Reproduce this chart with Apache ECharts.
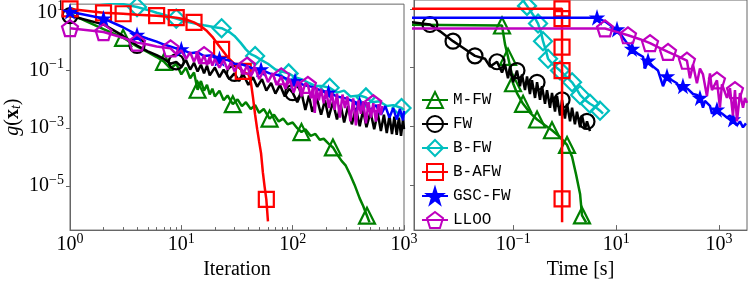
<!DOCTYPE html>
<html><head><meta charset="utf-8">
<script src="https://cdn.jsdelivr.net/npm/echarts@6/dist/echarts.min.js"></script>
<style>html,body{margin:0;padding:0;background:#fff}#c{width:748px;height:285px}</style>
</head><body><div id="c"></div>
<script>
const names = ['M-FW', 'FW', 'B-FW', 'B-AFW', 'GSC-FW', 'LLOO'];
const colors = ['#008000', '#000000', '#00BFBF', '#FF0000', '#0000FF', '#BF00BF'];
const xTicksIter = [1, 10, 100, 1000];
const xTicksTime = [0.1, 10, 1000];
const yTicks = [1e-5, 1e-3, 1e-1, 10];

// ---------- left panel: gap vs iteration ----------
const mfwIter = [[1,9.26],[2,2.71],[3,1.36],[4,0.681],[5,0.43],[6,0.293],[7,0.2],[8,0.117],[9,0.171],[10,0.0736],[11,0.126],[12,0.0541],[13,0.0858],[14,0.0215],[15,0.043],[16,0.02],[17,0.0316],[18,0.0147],[19,0.0233],[20,0.0126],[22,0.02],[24,0.00926],[26,0.0136],[29,0.00681],[32,0.01],[35,0.00585],[38,0.00794],[42,0.00464],[46,0.00631],[50,0.00341],[55,0.00464],[62,0.00215],[68,0.00293],[75,0.00171],[82,0.00215],[90,0.00136],[100,0.00158],[110,0.001],[120,7.36e-4],[130,9.26e-4],[145,5.41e-4],[160,6.31e-4],[175,3.98e-4],[190,4.3e-4],[210,2.93e-4],[230,2.15e-4],[250,1.26e-4],[275,7.36e-5],[300,5.01e-5],[330,2.33e-5],[360,1.08e-5],[400,3.69e-6],[430,2.0e-6],[465,9.26e-7],[490,5.41e-7]];
const mfwIterMarks = [2,6,13,23,31,38,45,53];

const fwIter = [[1,7.94],[2,3.98],[3,1.58],[4,0.736],[5,0.464],[6,0.341],[7,0.251],[8,0.171],[9,0.2],[10,0.136],[11,0.233],[12,0.108],[13,0.185],[14,0.0926],[15,0.158],[16,0.0794],[17,0.147],[18,0.0681],[20,0.126],[22,0.0585],[24,0.108],[27,0.0501],[30,0.0794],[33,0.043],[36,0.0736],[40,0.0316],[44,0.0585],[48,0.0271],[53,0.0501],[58,0.02],[64,0.0369],[70,0.0158],[77,0.0316],[85,0.0126],[93,0.0233],[100,0.0171],[110,0.00794],[120,0.0171],[130,0.0043],[140,0.0136],[150,0.00369],[165,0.0108],[180,0.00293],[195,0.00926],[210,0.00233],[230,0.00794],[250,0.002],[270,0.00631],[290,0.00158],[315,0.00585],[340,0.00136],[370,0.00501],[400,0.00117],[430,0.0043],[460,0.00108],[500,0.00369],[540,9.26e-4],[580,0.00341],[620,7.94e-4],[660,0.00293],[700,6.81e-4],[740,0.00271],[780,6.31e-4],[820,0.00251],[860,5.85e-4],[900,0.00233],[940,5.41e-4],[980,0.002],[1000,9.26e-4]];
const fwIterMarks = [0,3,8,22,35];

const bfwIter = [[1,31.6],[2,23.3],[3,20],[4,15.8],[5,12.6],[6,10],[7,8.58],[9,6.31],[11,5.01],[13,4.3],[16,3.69],[20,3.16],[23,2.93],[27,2.15],[30,1.58],[34,0.926],[38,0.541],[42,0.369],[46,0.316],[52,0.233],[60,0.171],[70,0.108],[80,0.0926],[92,0.0794],[105,0.0585],[120,0.0501],[140,0.0369],[160,0.0293],[180,0.0293],[215,0.0251],[250,0.0171],[290,0.02],[330,0.0126],[400,0.0136],[455,0.0117],[520,0.00794],[600,0.00858],[700,0.00585],[800,0.00631],[950,0.00501],[1000,0.0043]];
const bfwIterMarks = [3,7,12,18,23,29,34,39];

const bafwIter = [[1,13.6],[2,10],[3,9.26],[4,8.58],[6,7.94],[9,6.81],[11,5.85],[13,4.64],[15,3.41],[17,2.33],[19,1.47],[21,0.858],[23,0.541],[26,0.293],[30,0.171],[33,0.126],[36,0.0926],[40,0.0736],[42,0.043],[44,0.0117],[46,0.00293],[48,9.26e-4],[50,3.41e-4],[52,1.36e-4],[54,2.93e-5],[56,9.26e-6],[58,3.41e-6],[60,5.85e-7]];
const bafwIterMarks = [0,1,2,4,5,7,12,16,26];

const gscIter = [[1,10.8],[2,6.31],[3,3.16],[4,1.71],[5,1.26],[6,1.0],[7,0.794],[9,0.585],[10,0.541],[12,0.398],[14,0.43],[16,0.316],[19,0.341],[22,0.251],[26,0.233],[30,0.171],[36,0.158],[44,0.117],[52,0.108],[62,0.0794],[75,0.0681],[90,0.0501],[105,0.043],[125,0.0316],[150,0.0271],[180,0.02],[210,0.0171],[250,0.0126],[300,0.0108],[350,0.00858],[400,0.00681],[450,0.00736],[500,0.0043],[560,0.00631],[620,0.00293],[680,0.00585],[740,0.00233],[800,0.00501],[860,0.002],[920,0.00464],[980,0.00185],[1000,0.00398]];
const gscIterMarks = [0,1,3,8,13,18,22,26,30];

const llooIter = [[1,2.93],[2,2.15],[3,1.36],[4,0.926],[5,0.794],[6,0.681],[7,0.631],[8,0.585],[9,0.369],[10,0.501],[11,0.251],[12,0.43],[13,0.2],[14,0.398],[15,0.185],[16,0.341],[17,0.158],[18,0.293],[19,0.147],[20,0.251],[22,0.126],[24,0.233],[26,0.108],[28,0.2],[30,0.0926],[33,0.171],[36,0.0794],[39,0.147],[42,0.0631],[46,0.126],[50,0.0501],[55,0.1],[60,0.0398],[66,0.0794],[72,0.0316],[79,0.0631],[86,0.0233],[94,0.0501],[102,0.0171],[111,0.043],[120,0.0126],[130,0.0369],[137,0.0316],[146,0.0108],[152,0.0271],[158,0.00341],[164,0.0251],[172,0.00926],[180,0.0233],[190,0.00736],[200,0.02],[212,0.00501],[225,0.0171],[238,0.0043],[250,0.0158],[265,0.00233],[280,0.0147],[295,0.00501],[310,0.0126],[330,0.00171],[350,0.0108],[370,0.00126],[390,0.00926],[410,0.00316],[430,0.00858],[455,0.00147],[480,0.00794],[505,0.00233],[530,0.00736],[560,0.00171],[590,0.00681],[620,0.00293],[640,0.00585]];
const llooIterMarks = [0,1,3,7,15,27,35,42,68];

// ---------- right panel: gap vs time [s] ----------
const mfwTime = [[1e-4,2.93],[0.0604,2.71],[0.069,0.631],[0.079,0.233],[0.0904,0.0794],[0.0989,0.0293],[0.118,0.0136],[0.155,0.00585],[0.211,0.00293],[0.29,0.00171],[0.414,0.00108],[0.566,7.36e-4],[0.811,4.3e-4],[1.11,2.33e-4],[1.39,9.26e-5],[1.66,2.33e-5],[1.99,5.01e-6],[2.17,9.26e-7],[2.6,5.41e-7]];
const mfwTimeMarks = [1,3,5,7,9,11,13,17];

const fwTime = [[6.3e-4,3.98],[0.0024,2.93],[0.00377,1.71],[0.00674,0.794],[0.01,0.501],[0.018,0.251],[0.0282,0.2],[0.0353,0.108],[0.0483,0.158],[0.0604,0.0681],[0.069,0.126],[0.079,0.043],[0.0865,0.108],[0.0989,0.0316],[0.118,0.0794],[0.135,0.0233],[0.148,0.0585],[0.169,0.0171],[0.185,0.0501],[0.211,0.0126],[0.231,0.0369],[0.265,0.00926],[0.29,0.0316],[0.331,0.00794],[0.362,0.0233],[0.414,0.00585],[0.453,0.0171],[0.518,0.0043],[0.566,0.0136],[0.648,0.00316],[0.708,0.0108],[0.811,0.00233],[0.887,0.00794],[1.01,0.00185],[1.11,0.00585],[1.27,0.00147],[1.39,0.0043],[1.58,0.00117],[1.73,0.00316],[1.99,9.26e-4],[2.17,0.00233],[2.48,7.94e-4],[2.71,0.00147],[3.1,6.81e-4]];
const fwTimeMarks = [1,3,5,8,14,22,32,42];

const bfwTime = [[6.3e-4,43],[0.135,27.1],[0.185,12.6],[0.242,6.31],[0.303,3.16],[0.346,1.58],[0.379,0.794],[0.433,0.369],[0.474,0.2],[0.592,0.126],[0.811,0.0794],[1.06,0.0501],[1.39,0.0316],[1.66,0.02],[1.99,0.0117],[2.48,0.00794],[3.1,0.00585],[3.88,0.00464],[4.86,0.00341],[5.56,0.00271]];
const bfwTimeMarks = [2,4,6,8,10,12,14,16,18];

const bafwTime = [[1e-4,10],[0.885,10],[0.886,4.64],[0.887,1.5],[0.887,0.501],[0.888,0.0794],[0.888,0.01],[0.889,1e-4],[0.889,3.41e-6],[0.89,5.41e-7]];
const bafwTimeMarks = [1,2,4,5,8];

const gscTime = [[1e-4,5.01],[4.25,5.01],[6.08,3.69],[8.32,2.51],[10.4,2.0],[13.0,1.17],[16.3,0.681],[20.4,0.43],[26.6,0.293],[33.3,0.233],[36.4,0.0926],[41.7,0.171],[52.1,0.108],[65.2,0.0794],[81.5,0.0233],[97.5,0.0501],[122,0.0369],[152,0.0293],[174,0.0171],[199,0.0233],[249,0.0185],[312,0.0126],[372,0.0117],[426,0.00926],[488,0.0043],[533,0.00736],[667,0.00501],[729,0.00271],[912,0.00369],[1140,0.00271],[1426,0.002],[1633,0.00233],[1866,0.00171],[2234,0.00108],[2553,0.00147],[2924,9.26e-4],[3342,0.00126]];
const gscTimeMarks = [1,4,7,11,15,19,23,28,32];

const llooTime = [[1e-4,2.15],[6.08,2.15],[9.5,1.71],[17.0,1.26],[29.1,0.926],[45.6,0.681],[71.3,0.464],[102,0.341],[152,0.251],[238,0.171],[272,0.043],[312,0.126],[372,0.0293],[426,0.0926],[488,0.0585],[582,0.0108],[667,0.0631],[729,0.0171],[912,0.0369],[1042,0.0043],[1140,0.0271],[1426,0.00926],[1633,0.02],[1866,0.00233],[2042,0.0171],[2234,0.00147],[2553,0.0136],[2924,0.0043],[3198,0.00926],[3500,0.00631]];
const llooTimeMarks = [1,3,5,7,9,18,24];

const iterData = [[mfwIter, mfwIterMarks],[fwIter, fwIterMarks],[bfwIter, bfwIterMarks],[bafwIter, bafwIterMarks],[gscIter, gscIterMarks],[llooIter, llooIterMarks]];
const timeData = [[mfwTime, mfwTimeMarks],[fwTime, fwTimeMarks],[bfwTime, bfwTimeMarks],[bafwTime, bafwTimeMarks],[gscTime, gscTimeMarks],[llooTime, llooTimeMarks]];

const STAR = 'path://M50,0 L61.2,34.5 L97.6,34.5 L68.2,55.9 L79.4,90.5 L50,69.1 L20.6,90.5 L31.8,55.9 L2.4,34.5 L38.8,34.5 Z';
const PENT = 'path://M50,0 L97.6,34.5 L79.4,90.5 L20.6,90.5 L2.4,34.5 Z';
const symbols = ['triangle', 'circle', 'diamond', 'rect', STAR, PENT];
const sizes = [16, 15, 18, 15, 12, 16];

function makeSeries(k, pair, panel) {
  const marks = new Set(pair[1]);
  const filled = k === 4;
  return {
    name: names[k], type: 'line', xAxisIndex: panel, yAxisIndex: panel,
    data: pair[0].map((d, i) => marks.has(i) ? { value: d } : { value: d, symbol: 'none' }),
    symbol: symbols[k], symbolSize: sizes[k], showSymbol: true,
    lineStyle: { color: colors[k], width: 2.5 },
    itemStyle: { color: filled ? colors[k] : 'rgba(255,255,255,0)', borderColor: colors[k], borderWidth: filled ? 1.5 : 2.2 },
    clip: true, silent: true, animation: false, z: 3 + k,
    emphasis: { disabled: true }
  };
}

const serif = 'Liberation Serif';
const supRich = {
  b: { fontFamily: serif, fontSize: 20, lineHeight: 26, color: '#000' },
  s: { fontFamily: serif, fontSize: 14, lineHeight: 14, verticalAlign: 'top', color: '#000' }
};
function powLabel(v) {
  const e = Math.round(Math.log10(v));
  return '{b|10}{s|' + (e < 0 ? '\u2212' + (-e) : e) + '}';
}
const axisColor = '#666';

function xAxisCfg(grid, min, max, ticks, name, minor) {
  return {
    type: 'log', gridIndex: grid, min: min, max: max, logBase: 10,
    axisLine: { show: true, lineStyle: { color: axisColor, width: 1 } },
    axisTick: { show: true, inside: true, length: 5, customValues: ticks, lineStyle: { color: axisColor } },
    minorTick: { show: minor, splitNumber: 9, length: 3, lineStyle: { color: axisColor } },
    axisLabel: { customValues: ticks, formatter: powLabel, rich: supRich, margin: 2 },
    splitLine: { show: false }, minorSplitLine: { show: false },
    name: name, nameLocation: 'middle', nameGap: 27,
    nameTextStyle: { fontFamily: serif, fontSize: 20, color: '#000' }
  };
}
function yAxisCfg(grid, showLabels) {
  return {
    type: 'log', gridIndex: grid, min: 2.93e-7, max: 20, logBase: 10,
    axisLine: { show: true, lineStyle: { color: axisColor, width: 1 } },
    axisTick: { show: true, inside: false, length: 4, customValues: yTicks, lineStyle: { color: axisColor } },
    axisLabel: { show: showLabels, customValues: yTicks, formatter: powLabel, rich: supRich, margin: 6 },
    splitLine: { show: false }, minorSplitLine: { show: false },
    name: showLabels ? '{i|g}{n|(}{x|x}{t|t}{n|)}' : '',
    nameLocation: 'middle', nameRotate: 90, nameGap: 47, nameMoveOverlap: false,
    nameTextStyle: {
      color: '#000',
      rich: {
        i: { fontFamily: serif, fontStyle: 'italic', fontSize: 20, lineHeight: 20 },
        n: { fontFamily: serif, fontSize: 20, lineHeight: 20 },
        x: { fontFamily: serif, fontWeight: 'bold', fontSize: 20, lineHeight: 20 },
        t: { fontFamily: serif, fontStyle: 'italic', fontSize: 14, lineHeight: 14, verticalAlign: 'bottom' }
      }
    }
  };
}

const chart = echarts.init(document.getElementById('c'), null, { renderer: 'canvas' });
chart.setOption({
  animation: false,
  backgroundColor: '#fff',
  grid: [
    { left: 70, top: 0, width: 334, height: 235, show: true, borderColor: axisColor, borderWidth: 1, backgroundColor: 'rgba(0,0,0,0)' },
    { left: 414, top: 0, width: 333, height: 235, show: true, borderColor: axisColor, borderWidth: 1, backgroundColor: 'rgba(0,0,0,0)' }
  ],
  xAxis: [
    xAxisCfg(0, 1, 1000, xTicksIter, 'Iteration', true),
    xAxisCfg(1, 0.001175, 3500, xTicksTime, 'Time [s]', false)
  ],
  yAxis: [yAxisCfg(0, true), yAxisCfg(1, false)],
  legend: {
    data: names, orient: 'vertical', left: 416, top: 86,
    itemWidth: 26, itemHeight: 20, itemGap: 6,
    textStyle: { fontFamily: 'Liberation Mono', fontSize: 16, color: '#000' },
    selectedMode: false
  },
  series: iterData.map((p, k) => makeSeries(k, p, 0)).concat(timeData.map((p, k) => makeSeries(k, p, 1)))
});
</script>
</body></html>
